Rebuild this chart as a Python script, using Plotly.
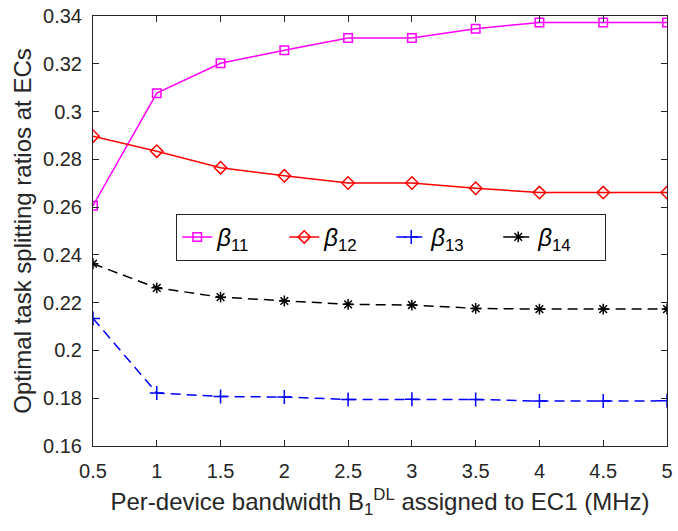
import plotly.graph_objects as go

x_vals = [0.5, 1, 1.5, 2, 2.5, 3, 3.5, 4, 4.5, 5]
beta11 = [0.2606, 0.3077, 0.3202, 0.3257, 0.3308, 0.3308, 0.3347, 0.3373, 0.3373, 0.3373]
beta12 = [0.2897, 0.2834, 0.2765, 0.2731, 0.2701, 0.2701, 0.2679, 0.2661, 0.2661, 0.2661]
beta13 = [0.2134, 0.1822, 0.1807, 0.1805, 0.1795, 0.1796, 0.1795, 0.1788, 0.1788, 0.1789]
beta14 = [0.2363, 0.2262, 0.2223, 0.2207, 0.2193, 0.2190, 0.2176, 0.2173, 0.2173, 0.2173]

x_ticks = [0.5, 1, 1.5, 2, 2.5, 3, 3.5, 4, 4.5, 5]
x_ticktext = ["0.5", "1", "1.5", "2", "2.5", "3", "3.5", "4", "4.5", "5"]
y_ticks = [0.16, 0.18, 0.2, 0.22, 0.24, 0.26, 0.28, 0.3, 0.32, 0.34]
y_ticktext = ["0.16", "0.18", "0.2", "0.22", "0.24", "0.26", "0.28", "0.3", "0.32", "0.34"]

names = ["<i>β</i><sub>11</sub>", "<i>β</i><sub>12</sub>", "<i>β</i><sub>13</sub>", "<i>β</i><sub>14</sub>"]

FONT = "Liberation Sans, Arial, sans-serif"
TXT = "#262626"

fig = go.Figure()
fig.add_trace(go.Scatter(x=x_vals, y=beta11, name=names[0], mode="lines+markers",
                         line=dict(color="#ff00ff", width=1.5),
                         marker=dict(symbol="square-open", size=8.5, color="#ff00ff", line=dict(width=1.5))))
fig.add_trace(go.Scatter(x=x_vals, y=beta12, name=names[1], mode="lines+markers",
                         line=dict(color="#ff0000", width=1.5),
                         marker=dict(symbol="diamond-open", size=9.5, color="#ff0000", line=dict(width=1.5))))
fig.add_trace(go.Scatter(x=x_vals, y=beta13, name=names[2], mode="lines+markers",
                         line=dict(color="#0000ff", width=1.5, dash="10px,6px"),
                         marker=dict(symbol="cross-thin-open", size=10, color="#0000ff",
                                     line=dict(width=1.5, color="#0000ff"))))
fig.add_trace(go.Scatter(x=x_vals, y=beta14, name=names[3], mode="lines+markers",
                         line=dict(color="#000000", width=1.5, dash="10px,6px"),
                         marker=dict(symbol="asterisk-open", size=9, color="#000000",
                                     line=dict(width=1.5, color="#000000"))))

axis_common = dict(showgrid=False, zeroline=False, showline=True, linecolor=TXT, linewidth=1,
                   mirror="ticks", ticks="inside", ticklen=6, tickcolor=TXT,
                   tickfont=dict(family=FONT, size=20, color=TXT))

fig.update_layout(
    width=678, height=531,
    margin=dict(l=93, r=5, t=12, b=85),
    paper_bgcolor="white", plot_bgcolor="white",
    font=dict(family=FONT, color=TXT),
    xaxis=dict(range=[0.5, 5], tickvals=x_ticks, ticktext=x_ticktext, ticklabelstandoff=7,
               title=dict(text="Per-device bandwidth B<sub>1</sub><sup>DL</sup> assigned to EC1 (MHz)",
                          font=dict(size=24, color=TXT), standoff=12),
               **axis_common),
    yaxis=dict(range=[0.16, 0.34], tickvals=y_ticks, ticktext=y_ticktext, ticklabelstandoff=6,
               title=dict(text="Optimal task splitting ratios at ECs",
                          font=dict(size=24, color=TXT), standoff=4),
               **axis_common),
    legend=dict(orientation="h", x=0.145, y=0.540, xanchor="left", yanchor="top",
                bordercolor=TXT, borderwidth=1, bgcolor="white",
                font=dict(size=24, color="#000000"), entrywidth=62, entrywidthmode="pixels",
                tracegroupgap=0),
    showlegend=True,
)

fig.write_html("out.html")
